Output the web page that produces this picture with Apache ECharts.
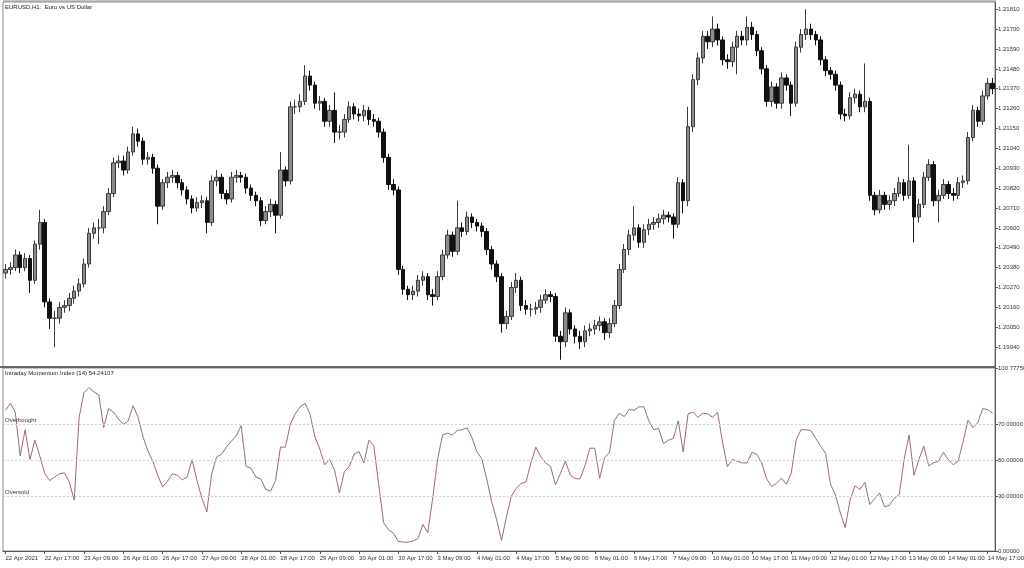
<!DOCTYPE html>
<html>
<head>
<meta charset="utf-8">
<script src="https://cdn.jsdelivr.net/npm/echarts@6/dist/echarts.min.js"></script>
<style>
html,body{margin:0;padding:0;background:#fff;}
#chart{width:1024px;height:568px;}
</style>
</head>
<body>
<div id="chart"></div>
<script>
// ---- data (H1 EURUSD sampled every 2 hours) ----
const days = ['22 Apr','23 Apr','26 Apr','27 Apr','28 Apr','29 Apr','30 Apr','3 May','4 May','5 May','6 May','7 May','10 May','11 May','12 May','13 May','14 May'];
const barHours = ['01:00','03:00','05:00','07:00','09:00','11:00','13:00','15:00','17:00','19:00','21:00','23:00'];
const tickLabels = ['22 Apr 2021','22 Apr 17:00','23 Apr 09:00','26 Apr 01:00','26 Apr 17:00','27 Apr 09:00','28 Apr 01:00','28 Apr 17:00','29 Apr 09:00','30 Apr 01:00','30 Apr 17:00','3 May 09:00','4 May 01:00','4 May 17:00','5 May 09:00','6 May 01:00','6 May 17:00','7 May 09:00','10 May 01:00','10 May 17:00','11 May 09:00','12 May 01:00','12 May 17:00','13 May 09:00','14 May 01:00','14 May 17:00'];
const priceTicks = [1.19940,1.20050,1.20160,1.20270,1.20380,1.20490,1.20600,1.20710,1.20820,1.20930,1.21040,1.21150,1.21260,1.21370,1.21480,1.21590,1.21700,1.21810];
const imiTicks = [0, 30, 50, 70, 100.7775];

const open = [
1.2035,1.2037,1.2038,1.2045,1.2038,1.2043,1.2031,1.2051,1.2063,1.2019,
1.2010,1.2010,1.2016,1.2017,1.2021,1.2025,1.2029,1.2040,1.2057,1.2060,
1.2060,1.2069,1.2079,1.2096,1.2097,1.2092,1.2102,1.2112,1.2108,1.2098,
1.2099,1.2093,1.2072,1.2085,1.2088,1.2089,1.2085,1.2081,1.2076,1.2071,
1.2074,1.2075,1.2063,1.2086,1.2088,1.2079,1.2076,1.2088,1.2089,1.2088,
1.2082,1.2078,1.2075,1.2064,1.2069,1.2073,1.2067,1.2092,1.2086,1.2127,
1.2127,1.2130,1.2144,1.2139,1.2129,1.2130,1.2119,1.2125,1.2113,1.2113,
1.2120,1.2127,1.2123,1.2122,1.2125,1.2120,1.2119,1.2113,1.2099,1.2084,
1.2081,1.2037,1.2026,1.2023,1.2025,1.2031,1.2033,1.2023,1.2022,1.2033,
1.2045,1.2056,1.2047,1.2060,1.2058,1.2066,1.2063,1.2061,1.2058,1.2048,
1.2040,1.2033,1.2007,1.2011,1.2027,1.2031,1.2017,1.2015,1.2015,1.2016,
1.2020,1.2023,1.2022,1.2000,1.1997,1.2013,1.2004,1.2000,1.1997,1.2003,
1.2004,1.2006,1.2008,1.2002,1.2007,1.2017,1.2037,1.2048,1.2056,1.2060,
1.2052,1.2059,1.2062,1.2063,1.2065,1.2067,1.2066,1.2062,1.2085,1.2075,
1.2116,1.2142,1.2154,1.2166,1.2163,1.2170,1.2164,1.2153,1.2152,1.2160,
1.2166,1.2164,1.2171,1.2167,1.2158,1.2148,1.2130,1.2138,1.2129,1.2143,
1.2139,1.2129,1.2160,1.2167,1.2170,1.2167,1.2164,1.2153,1.2147,1.2145,
1.2139,1.2123,1.2122,1.2132,1.2134,1.2127,1.2130,1.2078,1.2070,1.2078,
1.2073,1.2075,1.2079,1.2085,1.2078,1.2086,1.2066,1.2073,1.2088,1.2095,
1.2075,1.2078,1.2084,1.2079,1.2078,1.2085,1.2086,1.2110,1.2125,1.2119,
1.2133,1.2140
];
const close = [
1.2037,1.2038,1.2045,1.2038,1.2043,1.2031,1.2051,1.2063,1.2019,1.2010,
1.2010,1.2016,1.2017,1.2021,1.2025,1.2029,1.2040,1.2057,1.2060,1.2060,
1.2069,1.2079,1.2096,1.2097,1.2092,1.2102,1.2112,1.2108,1.2098,1.2099,
1.2093,1.2072,1.2085,1.2088,1.2089,1.2085,1.2081,1.2076,1.2071,1.2074,
1.2075,1.2063,1.2086,1.2088,1.2079,1.2076,1.2088,1.2089,1.2088,1.2082,
1.2078,1.2075,1.2064,1.2069,1.2073,1.2067,1.2092,1.2086,1.2127,1.2127,
1.2130,1.2144,1.2139,1.2129,1.2130,1.2119,1.2125,1.2113,1.2113,1.2120,
1.2127,1.2123,1.2122,1.2125,1.2120,1.2119,1.2113,1.2099,1.2084,1.2081,
1.2037,1.2026,1.2023,1.2025,1.2031,1.2033,1.2023,1.2022,1.2033,1.2045,
1.2056,1.2047,1.2060,1.2058,1.2066,1.2063,1.2061,1.2058,1.2048,1.2040,
1.2033,1.2007,1.2011,1.2027,1.2031,1.2017,1.2015,1.2015,1.2016,1.2020,
1.2023,1.2022,1.2000,1.1997,1.2013,1.2004,1.2000,1.1997,1.2003,1.2004,
1.2006,1.2008,1.2002,1.2007,1.2017,1.2037,1.2048,1.2056,1.2060,1.2052,
1.2059,1.2062,1.2063,1.2065,1.2067,1.2066,1.2062,1.2085,1.2075,1.2116,
1.2142,1.2154,1.2166,1.2163,1.2170,1.2164,1.2153,1.2152,1.2160,1.2166,
1.2164,1.2171,1.2167,1.2158,1.2148,1.2130,1.2138,1.2129,1.2143,1.2139,
1.2129,1.2160,1.2167,1.2170,1.2167,1.2164,1.2153,1.2147,1.2145,1.2139,
1.2123,1.2122,1.2132,1.2134,1.2127,1.2130,1.2078,1.2070,1.2078,1.2073,
1.2075,1.2079,1.2085,1.2078,1.2086,1.2066,1.2073,1.2088,1.2095,1.2075,
1.2078,1.2084,1.2079,1.2078,1.2085,1.2086,1.2110,1.2125,1.2119,1.2133,
1.2140,1.2137
];
const high = [
1.2040,1.2041,1.2048,1.2047,1.2046,1.2045,1.2053,1.2070,1.2065,1.2021,
1.2014,1.2019,1.2020,1.2024,1.2028,1.2032,1.2043,1.2060,1.2063,1.2065,
1.2072,1.2082,1.2099,1.2100,1.2100,1.2105,1.2116,1.2115,1.2110,1.2102,
1.2101,1.2095,1.2087,1.2091,1.2092,1.2091,1.2087,1.2083,1.2078,1.2077,
1.2078,1.2077,1.2089,1.2092,1.2090,1.2081,1.2091,1.2092,1.2091,1.2090,
1.2084,1.2080,1.2077,1.2072,1.2076,1.2075,1.2102,1.2094,1.2130,1.2131,
1.2134,1.2150,1.2147,1.2141,1.2133,1.2132,1.2128,1.2135,1.2117,1.2123,
1.2130,1.2129,1.2126,1.2128,1.2127,1.2123,1.2121,1.2115,1.2101,1.2087,
1.2083,1.2039,1.2028,1.2028,1.2034,1.2036,1.2035,1.2026,1.2036,1.2048,
1.2059,1.2058,1.2075,1.2063,1.2069,1.2068,1.2065,1.2063,1.2060,1.2050,
1.2042,1.2035,1.2014,1.2030,1.2035,1.2033,1.2020,1.2018,1.2019,1.2023,
1.2026,1.2025,1.2024,1.2003,1.2016,1.2015,1.2006,1.2003,1.2006,1.2007,
1.2009,1.2011,1.2010,1.2010,1.2020,1.2040,1.2051,1.2059,1.2072,1.2062,
1.2062,1.2065,1.2066,1.2068,1.2070,1.2069,1.2068,1.2088,1.2087,1.2127,
1.2145,1.2157,1.2169,1.2169,1.2177,1.2173,1.2166,1.2156,1.2163,1.2169,
1.2169,1.2177,1.2174,1.2169,1.2160,1.2150,1.2141,1.2140,1.2146,1.2145,
1.2141,1.2163,1.2170,1.2181,1.2173,1.2169,1.2166,1.2155,1.2149,1.2147,
1.2141,1.2126,1.2135,1.2137,1.2136,1.2151,1.2132,1.2080,1.2081,1.2080,
1.2078,1.2082,1.2088,1.2087,1.2106,1.2088,1.2076,1.2091,1.2098,1.2097,
1.2081,1.2087,1.2086,1.2082,1.2088,1.2089,1.2113,1.2128,1.2127,1.2136,
1.2143,1.2143
];
const low = [
1.2032,1.2034,1.2036,1.2035,1.2036,1.2024,1.2029,1.2048,1.2016,1.2004,
1.1994,1.2007,1.2013,1.2014,1.2018,1.2022,1.2027,1.2038,1.2054,1.2051,
1.2057,1.2067,1.2077,1.2093,1.2089,1.2090,1.2100,1.2105,1.2095,1.2095,
1.2090,1.2062,1.2070,1.2082,1.2085,1.2082,1.2078,1.2073,1.2068,1.2069,
1.2071,1.2057,1.2061,1.2083,1.2076,1.2073,1.2074,1.2085,1.2085,1.2079,
1.2075,1.2072,1.2061,1.2062,1.2066,1.2057,1.2065,1.2083,1.2084,1.2123,
1.2124,1.2128,1.2136,1.2126,1.2125,1.2116,1.2116,1.2107,1.2109,1.2110,
1.2118,1.2120,1.2119,1.2119,1.2117,1.2116,1.2110,1.2096,1.2081,1.2078,
1.2034,1.2023,1.2020,1.2020,1.2022,1.2028,1.2020,1.2017,1.2020,1.2031,
1.2043,1.2044,1.2045,1.2055,1.2056,1.2060,1.2058,1.2055,1.2045,1.2037,
1.2030,1.2002,1.2004,1.2009,1.2024,1.2014,1.2012,1.2011,1.2012,1.2013,
1.2018,1.2019,1.1997,1.1987,1.1994,1.2001,1.1996,1.1993,1.1994,1.2000,
1.2001,1.2003,1.1998,1.1999,1.2005,1.2015,1.2035,1.2045,1.2053,1.2049,
1.2049,1.2056,1.2059,1.2060,1.2062,1.2063,1.2054,1.2060,1.2068,1.2072,
1.2113,1.2139,1.2151,1.2159,1.2160,1.2161,1.2150,1.2148,1.2149,1.2145,
1.2161,1.2161,1.2164,1.2155,1.2145,1.2127,1.2127,1.2126,1.2126,1.2136,
1.2122,1.2127,1.2157,1.2164,1.2164,1.2161,1.2150,1.2144,1.2142,1.2136,
1.2120,1.2119,1.2120,1.2129,1.2124,1.2124,1.2075,1.2067,1.2068,1.2070,
1.2070,1.2072,1.2077,1.2075,1.2076,1.2052,1.2063,1.2071,1.2086,1.2072,
1.2063,1.2076,1.2076,1.2075,1.2076,1.2082,1.2084,1.2108,1.2116,1.2117,
1.2131,1.2134
];
const imi = [
77.5,81.3,76.5,52.3,66.8,50.4,61.0,52.3,42.6,38.8,
40.7,42.6,43.0,38.0,28.0,73.6,87.2,90.0,87.6,86.0,
68.0,78.4,76.5,72.6,69.7,71.7,80.0,73.6,63.0,55.2,
49.5,41.7,35.3,38.4,42.6,41.7,39.2,40.7,50.4,38.8,
29.1,21.5,42.6,51.8,53.3,57.2,60.4,63.5,69.0,46.5,
45.6,40.7,39.7,33.9,33.0,38.8,57.2,57.2,69.7,75.5,
79.4,81.3,75.5,63.0,56.2,47.5,50.4,44.6,32.0,43.6,
46.5,53.3,54.8,48.5,61.0,58.1,36.8,15.6,11.7,9.8,
5.3,4.9,4.9,5.5,6.9,14.6,10.1,29.1,50.4,63.9,
64.9,63.9,66.3,66.8,67.8,62.4,54.6,50.8,39.7,27.2,
17.5,5.9,18.5,30.1,34.5,37.2,38.0,48.5,57.2,51.9,
48.5,46.5,36.4,42.6,49.5,41.9,39.9,39.7,46.9,56.6,
56.6,40.0,51.4,54.3,71.7,75.9,74.0,77.9,77.5,79.4,
79.4,71.7,66.8,67.4,59.1,61.0,62.0,71.7,54.6,75.5,
76.5,73.6,75.9,75.5,73.6,76.5,60.1,46.5,50.4,49.5,
48.5,48.5,54.3,53.3,48.5,39.7,35.5,37.2,40.1,36.8,
42.6,61.0,66.8,66.8,66.3,62.0,57.7,53.9,36.8,31.0,
21.0,12.9,28.1,35.9,33.9,37.8,25.6,28.7,32.0,24.3,
25.2,29.1,31.0,50.4,63.9,41.7,50.4,57.7,46.9,48.5,
49.5,54.3,50.4,47.5,49.5,60.1,72.0,68.0,70.7,78.4,
77.9,75.9
];

// ---- build ----
const categories = [];
days.forEach(d => barHours.forEach(h => categories.push(d + ' ' + h)));
categories.length = close.length;
const candles = close.map((c, i) => [open[i], c, low[i], high[i]]);

const FONT = 'Liberation Sans';
const txt = { fontSize: 6, color: '#333', fontFamily: FONT };

const chart = echarts.init(document.getElementById('chart'), null, { renderer: 'canvas' });
chart.setOption({
  animation: false,
  backgroundColor: '#ffffff',
  title: [
    { text: 'EURUSD,H1:  Euro vs US Dollar', left: 5, top: 4, padding: 0,
      textStyle: { fontSize: 6, fontWeight: 'normal', color: '#222', fontFamily: FONT } },
    { text: 'Intraday Momentum Index (14) 54.24107', left: 5, top: 370, padding: 0,
      textStyle: { fontSize: 6, fontWeight: 'normal', color: '#222', fontFamily: FONT } }
  ],
  grid: [
    { left: 3, right: 29, top: 2, height: 365, show: true, borderColor: '#8a8a8a', borderWidth: 1,
      containLabel: false, outerBoundsMode: 'none' },
    { left: 3, right: 29, top: 368, height: 183, show: true, borderColor: '#8a8a8a', borderWidth: 1,
      containLabel: false, outerBoundsMode: 'none' }
  ],
  xAxis: [
    { type: 'category', gridIndex: 0, data: categories, boundaryGap: true,
      axisLine: { show: false }, axisTick: { show: false }, axisLabel: { show: false } },
    { type: 'category', gridIndex: 1, data: categories, boundaryGap: true,
      axisLine: { show: true, lineStyle: { color: '#555', width: 1 } },
      axisTick: { show: true, interval: 7, alignWithLabel: true, length: 3, lineStyle: { color: '#555' } },
      axisLabel: Object.assign({ interval: 7, align: 'left', margin: 4, hideOverlap: false,
        formatter: (v, idx) => tickLabels[idx / 8] || '' }, txt) }
  ],
  yAxis: [
    { type: 'value', gridIndex: 0, position: 'right', min: 1.19830, max: 1.21850, scale: true,
      splitLine: { show: false },
      axisLine: { show: true, lineStyle: { color: '#555', width: 1 } },
      axisTick: { show: true, length: 3, customValues: priceTicks, lineStyle: { color: '#555' } },
      axisLabel: Object.assign({ margin: 3, customValues: priceTicks,
        formatter: v => v.toFixed(5) }, txt) },
    { type: 'value', gridIndex: 1, position: 'right', min: 0, max: 100.7775,
      splitLine: { show: false },
      axisLine: { show: true, lineStyle: { color: '#555', width: 1 } },
      axisTick: { show: true, length: 3, customValues: imiTicks, lineStyle: { color: '#555' } },
      axisLabel: Object.assign({ margin: 3, customValues: imiTicks,
        formatter: v => v.toFixed(5) }, txt) }
  ],
  series: [
    { type: 'candlestick', xAxisIndex: 0, yAxisIndex: 0, data: candles, barWidth: 4,
      itemStyle: { color: '#8c8c8c', color0: '#111111', borderColor: '#3a3a3a', borderColor0: '#111111', borderWidth: 1 } },
    { type: 'line', xAxisIndex: 1, yAxisIndex: 1, data: imi, symbol: 'none', smooth: false,
      lineStyle: { color: '#9c6a72', width: 1 },
      markLine: { silent: true, symbol: 'none', animation: false,
        lineStyle: { type: [2, 2], color: '#cfcfcf', width: 1 },
        label: Object.assign({ position: 'insideStartTop', distance: [2, 1] }, txt),
        data: [
          { yAxis: 70, label: { show: true, formatter: 'Overbought' } },
          { yAxis: 50, label: { show: false } },
          { yAxis: 30, label: { show: true, formatter: 'Oversold' } }
        ] } }
  ],
  graphic: [
    { type: 'rect', shape: { x: 0, y: 366, width: 996, height: 2 }, style: { fill: '#666' }, z: 100 },
    { type: 'line', shape: { x1: 3, y1: 1, x2: 996, y2: 1 }, style: { stroke: '#8a8a8a', lineWidth: 1 }, z: 100 }
  ]
});
</script>
</body>
</html>
